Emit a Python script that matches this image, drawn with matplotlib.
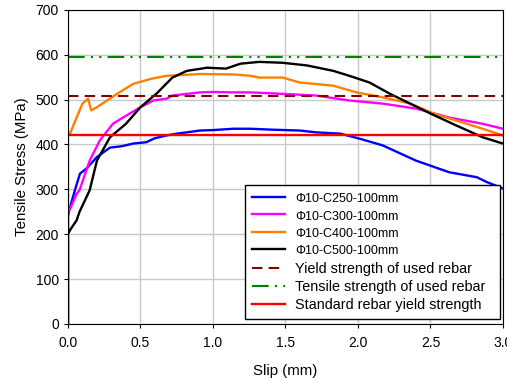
import matplotlib
matplotlib.use("Agg")
import matplotlib.pyplot as plt

plt.rcParams['font.family'] = ['Liberation Sans', 'DejaVu Sans']

# curves (slip in mm, stress in MPa)
c250_x = [0, 0, 0.01, 0.05, 0.083, 0.13, 0.2, 0.29, 0.37, 0.45, 0.54, 0.6, 0.68, 0.75, 0.82, 0.91, 1.0,
          1.14, 1.26, 1.4, 1.6, 1.71, 1.88, 2.01, 2.17, 2.4, 2.63, 2.82, 2.89, 3.0]
c250_y = [0, 240, 255, 300, 335, 347, 372, 393, 396, 402, 405, 414, 420, 424, 427, 431, 432,
          435, 435, 433, 431, 427, 424, 413, 398, 364, 338, 327, 316, 302]

c300_x = [0, 0, 0.01, 0.06, 0.08, 0.15, 0.22, 0.31, 0.38, 0.5, 0.59, 0.68, 0.72, 0.8, 0.91, 1.0, 1.14,
          1.26, 1.4, 1.71, 1.94, 2.17, 2.4, 2.63, 2.86, 3.0]
c300_y = [0, 250, 253, 290, 298, 364, 409, 446, 460, 483, 498, 502, 509, 512, 516, 517, 516,
          516, 514, 509, 498, 491, 480, 460, 446, 435]

c400_x = [0, 0, 0.014, 0.06, 0.10, 0.14, 0.16, 0.2, 0.27, 0.34, 0.45, 0.57, 0.68, 0.8, 0.91, 1.14,
          1.26, 1.32, 1.48, 1.6, 1.83, 1.99, 2.17, 2.36, 2.52, 2.68, 2.86, 3.0]
c400_y = [0, 420, 424, 460, 491, 502, 476, 483, 498, 513, 535, 546, 553, 555, 557, 556,
          553, 549, 549, 538, 531, 516, 505, 491, 469, 453, 435, 420]

c500_x = [0, 0, 0.014, 0.06, 0.08, 0.15, 0.2, 0.29, 0.4, 0.5, 0.61, 0.72, 0.82, 0.96, 1.09, 1.19,
          1.32, 1.48, 1.65, 1.83, 1.94, 2.08, 2.22, 2.36, 2.5, 2.68, 2.86, 3.0]
c500_y = [0, 200, 209, 231, 250, 298, 364, 416, 446, 483, 513, 549, 564, 571, 569, 580,
          584, 582, 576, 564, 553, 538, 513, 491, 469, 442, 416, 402]

yield_used = 508
tensile_used = 595
yield_std = 420
x_range = [0, 3.0]

fig = plt.figure(figsize=(5.07, 3.78), dpi=100)
ax = fig.add_axes([0.134, 0.143, 0.858, 0.831])

ax.plot(c250_x, c250_y, color='#0000ff', lw=1.7, label='Φ10-C250-100mm')
ax.plot(c300_x, c300_y, color='#ff00ff', lw=1.7, label='Φ10-C300-100mm')
ax.plot(c400_x, c400_y, color='#ff8000', lw=1.7, label='Φ10-C400-100mm')
ax.plot(c500_x, c500_y, color='black', lw=1.7, label='Φ10-C500-100mm')
ax.plot(x_range, [yield_used] * 2, color='#800000', lw=1.5, ls=(0, (5, 3)),
        label='Yield strength of used rebar')
ax.plot(x_range, [tensile_used] * 2, color='#008000', lw=1.5, ls=(0, (8, 3, 1, 3, 1, 3)),
        label='Tensile strength of used rebar  ')
ax.plot(x_range, [yield_std] * 2, color='#ff0000', lw=1.7, label='Standard rebar yield strength')

ax.set_xlim(0, 3.0)
ax.set_ylim(0, 700)
ax.set_xticks([0, 0.5, 1.0, 1.5, 2.0, 2.5, 3.0])
ax.set_xticklabels(['0.0', '0.5', '1.0', '1.5', '2.0', '2.5', '3.0'])
ax.set_yticks(range(0, 701, 100))
ax.grid(True, color='#c8c8c8', lw=1)
ax.set_axisbelow(True)
ax.tick_params(labelsize=10, length=3, direction='out')
ax.tick_params(axis='x', pad=6)
for s in ax.spines.values():
    s.set_color('black')
ax.set_xlabel('Slip (mm)', fontsize=10.8, labelpad=10)
ax.set_ylabel('Tensile Stress (MPa)', fontsize=10.8, labelpad=5)

leg = ax.legend(loc='lower right', bbox_to_anchor=(0.993, 0.016), fontsize=10.4, frameon=True,
                fancybox=False, framealpha=1, edgecolor='black', handlelength=2.3,
                handletextpad=0.7, labelspacing=0.3, borderpad=0.45, borderaxespad=0)
leg.get_frame().set_linewidth(1.0)
for t in leg.get_texts()[:4]:
    t.set_fontsize(9)

fig.savefig('out.png', dpi=100)
